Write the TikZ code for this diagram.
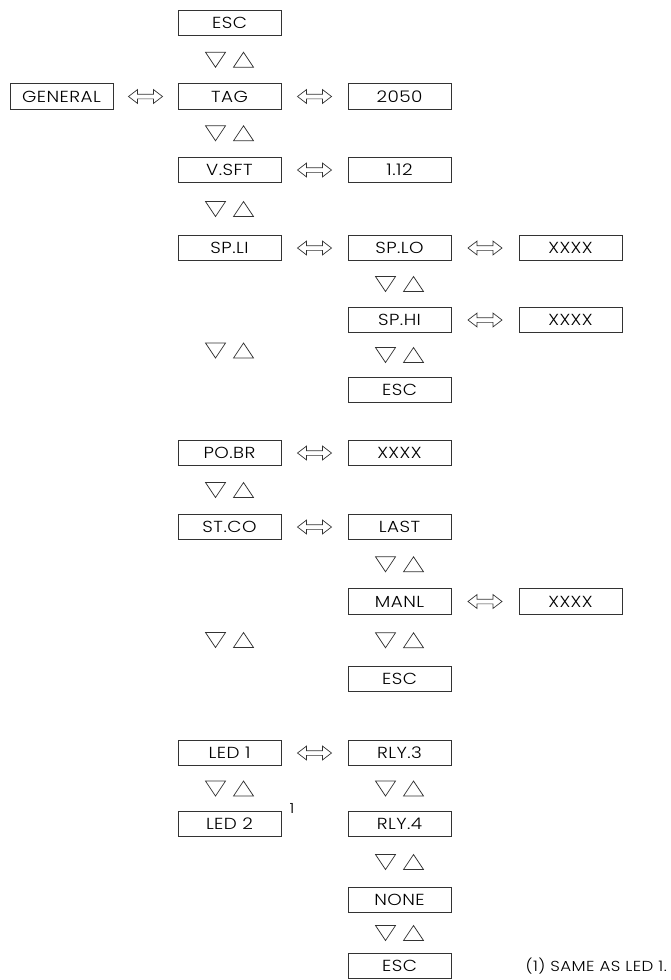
\documentclass[tikz,border=0pt]{standalone}
\usepackage{fontspec}
\IfFontExistsTF{Poppins Light}
  {\setmainfont{Poppins Light}[FakeStretch=1.15, LetterSpace=3]}
  {\setmainfont{Poppins}[FakeStretch=1.15, LetterSpace=3]}
\usetikzlibrary{shapes.arrows,calc}
\begin{document}
\begin{tikzpicture}[x=1pt,y=-1pt,
  box/.style={draw=black!80, line width=0.8pt, minimum width=103pt, minimum height=25.5pt, inner sep=0pt, font=\fontsize{16}{18}\selectfont},
  dbl/.style={shape=double arrow, draw=black!80, line width=0.7pt, minimum height=34pt, inner sep=2pt, double arrow head extend=4.5pt, double arrow tip angle=75},
  updown/.pic={\draw[black!80, line width=0.7pt] (-24,-7.5) -- (-4,-7.5) -- (-14,7.5) -- cycle;
               \draw[black!80, line width=0.7pt] (4,7.5) -- (24,7.5) -- (14,-7.5) -- cycle;}
]
\useasboundingbox (0,0) rectangle (670,980);
\node[box] (escA) at (229.5,23) {ESC};
\node[box] (gen)  at (61.5,96.5) {GENERAL};
\node[box] (tag)  at (229.5,96.5) {TAG};
\node[box] (v2050) at (399.5,96.5) {2050};
\node[box] (vsft) at (229.5,170) {V.SFT};
\node[box] (v112) at (399.5,170) {1.12};
\node[box] (spli) at (229.5,248) {SP.LI};
\node[box] (splo) at (399.5,248) {SP.LO};
\node[box] (xa)   at (570.5,248) {XXXX};
\node[box] (sphi) at (399.5,320) {SP.HI};
\node[box] (xb)   at (570.5,320) {XXXX};
\node[box] (escB) at (399.5,390) {ESC};
\node[box] (pobr) at (229.5,453) {PO.BR};
\node[box] (xc)   at (399.5,453) {XXXX};
\node[box] (stco) at (229.5,527) {ST.CO};
\node[box] (last) at (399.5,527) {LAST};
\node[box] (manl) at (399.5,601.5) {MANL};
\node[box] (xd)   at (570.5,601.5) {XXXX};
\node[box] (escC) at (399.5,679) {ESC};
\node[box] (led1) at (229.5,753) {LED 1};
\node[box] (rly3) at (399.5,753) {RLY.3};
\node[box] (led2) at (229.5,824) {LED 2};
\node[box] (rly4) at (399.5,824) {RLY.4};
\node[box] (none) at (399.5,900) {NONE};
\node[box] (escD) at (399.5,966) {ESC};
% footnote
\node[font=\fontsize{14}{15}\selectfont, inner sep=0pt] (fn) at (292,808) {1};
\node[font=\fontsize{14.5}{16}\selectfont, anchor=east, inner sep=0pt] (note) at (667,966) {(1) SAME AS LED 1.};
% horizontal double arrows
\foreach \a/\b in {gen/tag, tag/v2050, vsft/v112, spli/splo, splo/xa, sphi/xb, pobr/xc, stco/last, manl/xd, led1/rly3}
  \node[dbl] at ($(\a.east)!0.5!(\b.west)$) {};
% up/down triangles
\foreach \a/\b in {escA/tag, tag/vsft, vsft/spli, splo/sphi, spli/pobr, sphi/escB, pobr/stco, last/manl, stco/led1, manl/escC, led1/led2, rly3/rly4, rly4/none, none/escD}
  \pic at ($(\a)!0.5!(\b)$) {updown};
\end{tikzpicture}
\end{document}
